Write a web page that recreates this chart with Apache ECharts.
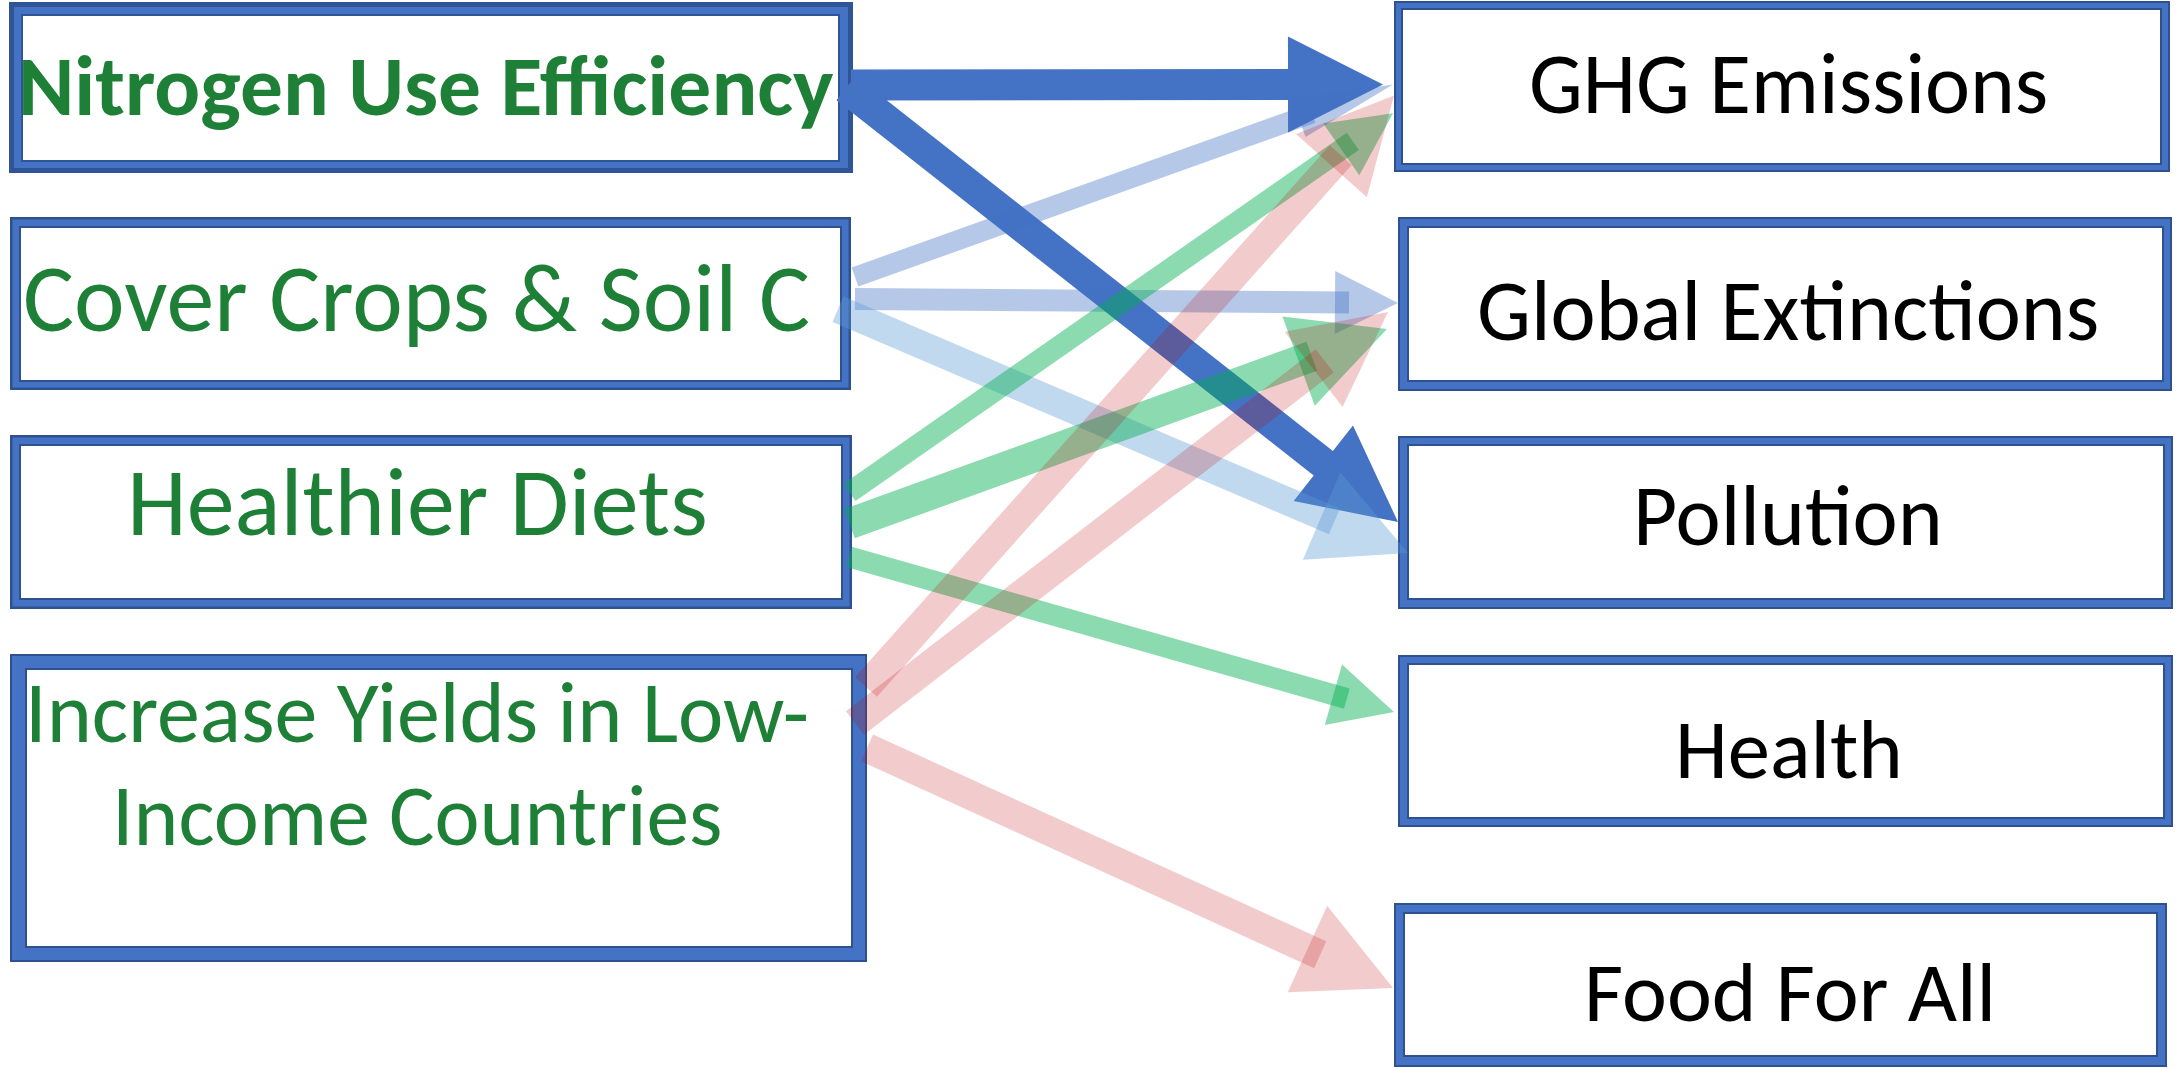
<!DOCTYPE html>
<html>
<head>
<meta charset="utf-8">
<script src="https://cdn.jsdelivr.net/npm/echarts@6/dist/echarts.min.js"></script>
<style>
html,body{margin:0;padding:0;background:#ffffff;}
#chart{width:2177px;height:1070px;}
</style>
</head>
<body>
<div id="chart"></div>
<script>
// ---------------- DATA ----------------
const sourceNodes = ['Nitrogen Use Efficiency', 'Cover Crops & Soil C', 'Healthier Diets', 'Increase Yields in Low-\nIncome Countries'];
const targetNodes = ['GHG Emissions', 'Global Extinctions', 'Pollution', 'Health', 'Food For All'];
// links: source index -> target index
const linkFrom   = [0, 0, 1, 1, 1, 2, 2, 2, 3, 3, 3];
const linkTo     = [0, 2, 0, 1, 2, 0, 1, 3, 0, 1, 4];
const linkKind   = ['dark', 'dark', 'light', 'light', 'sky', 'green', 'green', 'green', 'red', 'red', 'red'];
const linkWeight = [3, 3, 1, 1, 2, 1, 2, 1, 2, 2, 2];

// ---------------- STYLES ----------------
const KIND_COLOR = {
  dark:  'rgba(68,114,196,1)',
  light: 'rgba(68,114,196,0.39)',
  sky:   'rgba(91,155,213,0.38)',
  green: 'rgba(0,176,80,0.45)',
  red:   'rgba(192,0,0,0.2)'
};
const WEIGHT_GEOM = { // shaft width, head length, head width
  1: {shaft: 21, headL: 63, headW: 63},
  2: {shaft: 29.5, headL: 94, headW: 95},
  3: {shaft: 31, headL: 95, headW: 96}
};
const FONT_FAMILY = 'Carlito, Lato, "Open Sans", sans-serif';
const GREEN_TEXT = '#1D8036';

// ---------------- LAYOUT (diagram units = pixels of the 2177x1070 canvas) ----------------
const LEFT_BOXES = [
  {outer: [9, 2, 853, 173],   inner: [22, 15, 839, 161],  edge: 5, band: '#4472C4', line: '#2F5597',
   lines: [{cx: 428.5, cy: 85, w: 811, bold: true}]},
  {outer: [10, 217, 851, 390], inner: [20, 227, 841, 381], edge: 2.5, band: '#4472C4', line: '#2F528F',
   lines: [{cx: 417.5, cy: 297.5, w: 783}]},
  {outer: [10, 435, 852, 609], inner: [20, 445, 842, 599], edge: 2.5, band: '#4472C4', line: '#2F528F',
   lines: [{cx: 419, cy: 501, w: 572}]},
  {outer: [10, 654, 867, 962], inner: [26, 669, 852, 947], edge: 2, band: '#4472C4', line: '#2F528F',
   lines: [{cx: 419, cy: 712, w: 774}, {cx: 418.5, cy: 815, w: 601}]}
];
const RIGHT_BOXES = [
  {outer: [1394, 1, 2170, 172],    inner: [1402, 9, 2161, 164],    lines: [{cx: 1789, cy: 83.5, w: 514}]},
  {outer: [1398, 217, 2172, 391],  inner: [1408, 227, 2163, 381],  lines: [{cx: 1788.5, cy: 310, w: 617}]},
  {outer: [1398, 436, 2173, 609],  inner: [1408, 445, 2164, 599],  lines: [{cx: 1788.5, cy: 515.5, w: 299}]},
  {outer: [1398, 655, 2173, 827],  inner: [1408, 664, 2164, 818],  lines: [{cx: 1789, cy: 748, w: 218}]},
  {outer: [1394, 903, 2167, 1067], inner: [1404, 913, 2157, 1056], lines: [{cx: 1789.5, cy: 991.5, w: 401}]}
];
// arrow anchors: start = source box right edge + sdx, at fraction sf of its height
//                tip   = target box left edge + tdx, at fraction tf of its height
const LINK_ANCHORS = [
  {sdx: -2,  sf: 0.485, tdx: -11, tf: 0.488},
  {sdx: -7,  sf: 0.503, tdx: 0,   tf: 0.497},
  {sdx: 4,   sf: 0.347, tdx: -1,  tf: 0.488, headL: 100, headW: 40, shaft: 20},
  {sdx: 4,   sf: 0.474, tdx: 0,   tf: 0.494, shaft: 22},
  {sdx: -13, sf: 0.532, tdx: 10,  tf: 0.676, shaft: 28},
  {sdx: -2.5, sf: 0.330, tdx: -1, tf: 0.657},
  {sdx: -2.5, sf: 0.509, tdx: -11, tf: 0.644, shaft: 31},
  {sdx: -3,  sf: 0.701, tdx: -4,  tf: 0.331},
  {sdx: -1,  sf: 0.107, tdx: 0,   tf: 0.552},
  {sdx: -12, sf: 0.224, tdx: -10, tf: 0.546},
  {sdx: 0,   sf: 0.305, tdx: -1,  tf: 0.518}
];
const SHAFT_OVERLAP = 14;
const TEXT_DY = 0.1; // vertical nudge (in em) from cap centre to the drawn 'middle' point

// ---------------- text fitting ----------------
const measureCtx = document.createElement('canvas').getContext('2d');
function fitFont(text, targetW, bold) {
  const weight = bold ? 'bold ' : '';
  measureCtx.font = weight + '100px ' + FONT_FAMILY;
  const m = measureCtx.measureText(text);
  let ink = (m.actualBoundingBoxLeft || 0) + (m.actualBoundingBoxRight || m.width);
  if (!ink) ink = m.width;
  const size = 100 * targetW / ink;
  measureCtx.font = weight + size + 'px ' + FONT_FAMILY;
  const m2 = measureCtx.measureText(text);
  return {size: size, font: weight + size.toFixed(2) + 'px ' + FONT_FAMILY, abl: m2.actualBoundingBoxLeft || 0};
}

// build box list (all nodes)
const allBoxes = [];
sourceNodes.forEach((name, i) => allBoxes.push({name: name, side: 'L', geom: LEFT_BOXES[i]}));
targetNodes.forEach((name, i) => allBoxes.push({name: name, side: 'R', geom: RIGHT_BOXES[i]}));

function rectFrom(api, r) {
  const a = api.coord([r[0], r[1]]);
  const b = api.coord([r[2], r[3]]);
  return {x: a[0], y: a[1], width: b[0] - a[0], height: b[1] - a[1]};
}

function renderBox(params, api) {
  const node = allBoxes[params.dataIndex];
  const g = node.geom;
  const edge = g.edge || 2;
  const lineCol = g.line || '#2F528F';
  const o = rectFrom(api, g.outer);
  const inn = rectFrom(api, g.inner);
  const children = [
    {type: 'rect', shape: {x: o.x + edge / 2, y: o.y + edge / 2, width: o.width - edge, height: o.height - edge},
     style: {fill: g.band || '#4472C4', stroke: lineCol, lineWidth: edge}},
    {type: 'rect', shape: {x: inn.x, y: inn.y, width: inn.width, height: inn.height},
     style: {fill: '#ffffff', stroke: lineCol, lineWidth: 2}}
  ];
  const texts = node.name.split('\n');
  texts.forEach((t, k) => {
    const ln = g.lines[k];
    const f = fitFont(t, ln.w, ln.bold);
    const left = ln.cx - ln.w / 2;
    const p = api.coord([left, ln.cy]);
    children.push({
      type: 'text',
      style: {
        x: p[0] + f.abl, y: p[1] + TEXT_DY * f.size,
        text: t, font: f.font,
        fill: node.side === 'L' ? GREEN_TEXT : '#000000',
        textAlign: 'left', textVerticalAlign: 'middle'
      }
    });
  });
  return {type: 'group', children: children};
}

function boxOf(side, i) { return side === 'L' ? LEFT_BOXES[i].outer : RIGHT_BOXES[i].outer; }

function renderArrow(params, api) {
  const k = params.dataIndex;
  const a = LINK_ANCHORS[k];
  const wg = WEIGHT_GEOM[linkWeight[k]];
  const shaft = a.shaft || wg.shaft, headL = a.headL || wg.headL, headW = a.headW || wg.headW;
  const sb = boxOf('L', linkFrom[k]);
  const tb = boxOf('R', linkTo[k]);
  const S = api.coord([sb[2] + a.sdx, sb[1] + a.sf * (sb[3] - sb[1])]);
  const T = api.coord([tb[0] + a.tdx, tb[1] + a.tf * (tb[3] - tb[1])]);
  const dx = T[0] - S[0], dy = T[1] - S[1];
  const len = Math.hypot(dx, dy);
  const ux = dx / len, uy = dy / len, nx = -uy, ny = ux;
  const w = shaft / 2, H = headW / 2;
  const B = [T[0] - ux * headL, T[1] - uy * headL];
  const color = KIND_COLOR[linkKind[k]];
  const pt = (p, s) => [p[0] + nx * s, p[1] + ny * s];
  if (linkKind[k] === 'dark') {
    return {type: 'polygon', shape: {points: [pt(S, w), pt(B, w), pt(B, H), T, pt(B, -H), pt(B, -w), pt(S, -w)]},
            style: {fill: color}};
  }
  const E = [B[0] + ux * SHAFT_OVERLAP, B[1] + uy * SHAFT_OVERLAP];
  return {type: 'group', children: [
    {type: 'polygon', shape: {points: [pt(S, w), pt(E, w), pt(E, -w), pt(S, -w)]}, style: {fill: color}},
    {type: 'polygon', shape: {points: [pt(B, H), T, pt(B, -H)]}, style: {fill: color}}
  ]};
}

const chart = echarts.init(document.getElementById('chart'), null, {renderer: 'canvas'});
chart.setOption({
  animation: false,
  backgroundColor: '#ffffff',
  grid: {left: 0, right: 0, top: 0, bottom: 0},
  xAxis: {type: 'value', min: 0, max: 2177, show: false},
  yAxis: {type: 'value', min: 0, max: 1070, inverse: true, show: false},
  series: [
    {type: 'custom', name: 'nodes', z: 1, renderItem: renderBox,
     data: allBoxes.map((b, i) => [i]), encode: {x: 0}, silent: true, clip: false},
    {type: 'custom', name: 'links', z: 2, renderItem: renderArrow,
     data: linkFrom.map((f, i) => [f, linkTo[i], linkWeight[i]]), encode: {x: 0}, silent: true, clip: false}
  ]
});
</script>
</body>
</html>
